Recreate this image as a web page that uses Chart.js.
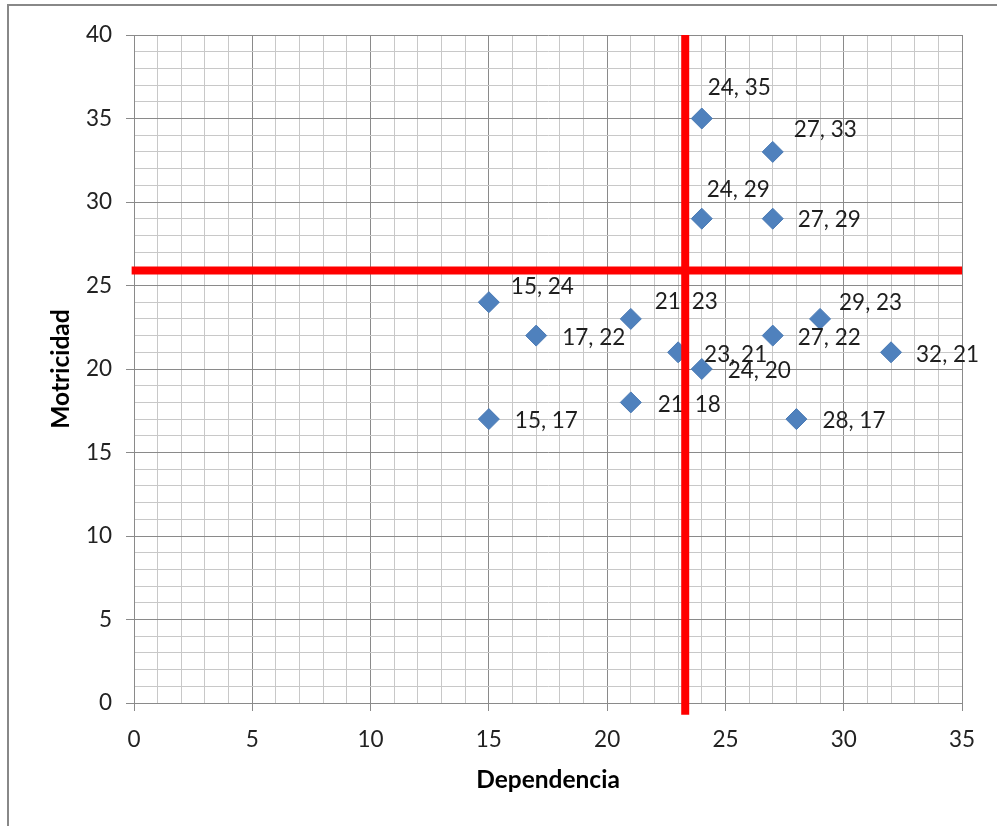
<!DOCTYPE html>
<html>
<head>
<meta charset="utf-8">
<script src="https://cdn.jsdelivr.net/npm/chart.js@4/dist/chart.umd.min.js"></script>
<style>
  html, body { margin: 0; padding: 0; background: #fff; }
  #wrap { position: relative; width: 997px; height: 826px; overflow: hidden; }
  #c { position: absolute; left: 0; top: 0; }
  #frame { position: absolute; left: 7px; top: 4px; width: 1100px; height: 900px; border: 2px solid #888; box-sizing: border-box; pointer-events: none; }
</style>
</head>
<body>
<div id="wrap">
  <canvas id="c" width="997" height="826"></canvas>
  <div id="frame"></div>
</div>
<script>
// ---- Data ----
const dependencia = [24, 27, 24, 27, 15, 21, 17, 23, 24, 29, 27, 32, 21, 28, 15];
const motricidad  = [35, 33, 29, 29, 24, 23, 22, 21, 20, 23, 22, 21, 18, 17, 17];
const corteDependencia = 23.3;   // vertical red line
const corteMotricidad = 25.9;    // horizontal red line
const xTickLabels = [0, 5, 10, 15, 20, 25, 30, 35];
const yTickLabels = [0, 5, 10, 15, 20, 25, 30, 35, 40];
const xTitle = 'Dependencia';
const yTitle = 'Motricidad';

// label placement (style only): offset from the point, in px
const labelOffsets = [[6,-31],[21,-22],[5,-29],[25,1],[22,-15],[24,-17],[26,2],[26,2],[26,2],[19,-16],[25,2],[25,2],[27,2],[26,2],[26,2]];

const points = dependencia.map((x, i) => ({ x: x, y: motricidad[i] }));
const xMin = xTickLabels[0], xMax = xTickLabels[xTickLabels.length - 1];
const yMin = yTickLabels[0], yMax = yTickLabels[yTickLabels.length - 1];

const labelPlugin = {
  id: 'pointLabels',
  afterDatasetDraw(chart, args) {
    if (args.index !== 0) return;
    const ctx = chart.ctx;
    const meta = chart.getDatasetMeta(0);
    ctx.save();
    ctx.font = '22.5px Lato, "Open Sans", sans-serif';
    ctx.fillStyle = '#1e1e1e';
    ctx.textAlign = 'left';
    ctx.textBaseline = 'middle';
    meta.data.forEach((el, i) => {
      const off = labelOffsets[i] || [20, 0];
      ctx.fillText(dependencia[i] + ', ' + motricidad[i], el.x + off[0], el.y + off[1]);
    });
    ctx.restore();
  }
};

const bgPlugin = {
  id: 'bg',
  beforeDraw(chart) {
    const ctx = chart.ctx;
    ctx.save();
    ctx.fillStyle = '#fff';
    ctx.fillRect(0, 0, chart.width, chart.height);
    ctx.restore();
  }
};

const tickFont = { family: 'Lato, "Open Sans", sans-serif', size: 22.5 };
const titleFont = { family: 'Lato, "Open Sans", sans-serif', size: 24.5, weight: 'bold' };

new Chart(document.getElementById('c'), {
  type: 'scatter',
  data: {
    datasets: [
      {
        data: points,
        pointStyle: 'rectRot',
        pointRadius: 10.5,
        pointHoverRadius: 10.5,
        backgroundColor: '#4F81BD',
        borderColor: '#4A7AB5',
        borderWidth: 1,
        order: 2
      },
      {
        type: 'line',
        data: [{ x: corteDependencia, y: yMin - 0.7 }, { x: corteDependencia, y: yMax }],
        borderColor: '#FF0000',
        borderWidth: 8,
        pointRadius: 0,
        showLine: true,
        clip: false,
        order: 1
      },
      {
        type: 'line',
        data: [{ x: xMin - 0.1, y: corteMotricidad }, { x: xMax, y: corteMotricidad }],
        borderColor: '#FF0000',
        borderWidth: 8,
        pointRadius: 0,
        showLine: true,
        clip: false,
        order: 1
      }
    ]
  },
  options: {
    responsive: false,
    animation: false,
    devicePixelRatio: 1,
    layout: { padding: { left: 0, right: 35, top: 35, bottom: 0 } },
    plugins: { legend: { display: false }, tooltip: { enabled: false } },
    scales: {
      x: {
        type: 'linear',
        min: xMin, max: xMax,
        afterFit(scale) { scale.height = 123; },
        afterBuildTicks(scale) {
          const t = [];
          for (let v = xMin; v <= xMax; v++) t.push({ value: v });
          scale.ticks = t;
        },
        ticks: {
          autoSkip: false,
          maxRotation: 0,
          padding: 15,
          color: '#222',
          font: tickFont,
          callback: (v) => xTickLabels.includes(v) ? String(v) : ''
        },
        grid: {
          color: (c) => (c.tick && xTickLabels.includes(c.tick.value)) ? '#8a8a8a' : '#c8c8c8',
          tickColor: (c) => (c.tick && xTickLabels.includes(c.tick.value)) ? '#8a8a8a' : 'rgba(0,0,0,0)',
          tickLength: 8,
          lineWidth: 1
        },
        border: { color: '#8a8a8a', width: 1 },
        title: { display: true, text: xTitle, color: '#000', font: titleFont, padding: { top: 0, bottom: 31 } }
      },
      y: {
        type: 'linear',
        min: yMin, max: yMax,
        afterFit(scale) { scale.width = 134; },
        afterBuildTicks(scale) {
          const t = [];
          for (let v = yMin; v <= yMax; v++) t.push({ value: v });
          scale.ticks = t;
        },
        ticks: {
          autoSkip: false,
          padding: 14,
          color: '#222',
          font: tickFont,
          callback: (v) => yTickLabels.includes(v) ? String(v) : ''
        },
        grid: {
          color: (c) => (c.tick && yTickLabels.includes(c.tick.value)) ? '#8a8a8a' : '#c8c8c8',
          tickColor: (c) => (c.tick && yTickLabels.includes(c.tick.value)) ? '#8a8a8a' : 'rgba(0,0,0,0)',
          tickLength: 8,
          lineWidth: 1
        },
        border: { color: '#8a8a8a', width: 1 },
        title: { display: true, text: yTitle, color: '#000', font: titleFont, padding: { top: 46, bottom: 0 } }
      }
    }
  },
  plugins: [bgPlugin, labelPlugin]
});
</script>
</body>
</html>
